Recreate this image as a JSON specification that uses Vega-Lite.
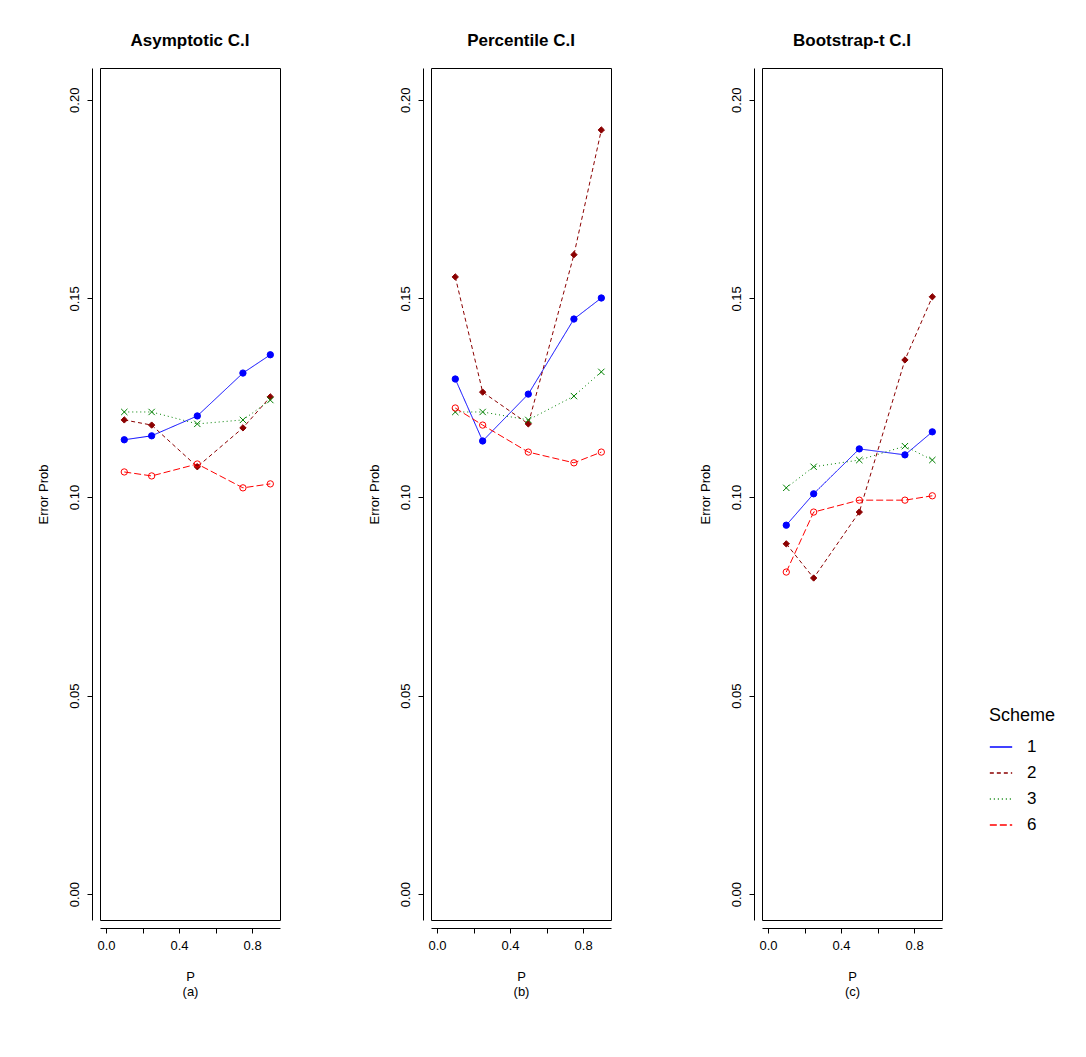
{
  "$schema": "https://vega.github.io/schema/vega-lite/v6.json",
  "background": "white",
  "padding": {"left": 36, "top": 31, "right": 5, "bottom": 5},
  "datasets": {
    "err": [
      {"panel": "a", "P": 0.1, "scheme": "1", "prob": 0.1144},
      {"panel": "a", "P": 0.25, "scheme": "1", "prob": 0.1154},
      {"panel": "a", "P": 0.5, "scheme": "1", "prob": 0.1204},
      {"panel": "a", "P": 0.75, "scheme": "1", "prob": 0.1312},
      {"panel": "a", "P": 0.9, "scheme": "1", "prob": 0.1358},
      {"panel": "a", "P": 0.1, "scheme": "2", "prob": 0.1194},
      {"panel": "a", "P": 0.25, "scheme": "2", "prob": 0.1181},
      {"panel": "a", "P": 0.5, "scheme": "2", "prob": 0.1076},
      {"panel": "a", "P": 0.75, "scheme": "2", "prob": 0.1174},
      {"panel": "a", "P": 0.9, "scheme": "2", "prob": 0.1252},
      {"panel": "a", "P": 0.1, "scheme": "3", "prob": 0.1214},
      {"panel": "a", "P": 0.25, "scheme": "3", "prob": 0.1214},
      {"panel": "a", "P": 0.5, "scheme": "3", "prob": 0.1184},
      {"panel": "a", "P": 0.75, "scheme": "3", "prob": 0.1194},
      {"panel": "a", "P": 0.9, "scheme": "3", "prob": 0.1244},
      {"panel": "a", "P": 0.1, "scheme": "6", "prob": 0.1063},
      {"panel": "a", "P": 0.25, "scheme": "6", "prob": 0.1053},
      {"panel": "a", "P": 0.5, "scheme": "6", "prob": 0.1083},
      {"panel": "a", "P": 0.75, "scheme": "6", "prob": 0.1023},
      {"panel": "a", "P": 0.9, "scheme": "6", "prob": 0.1033},
      {"panel": "b", "P": 0.1, "scheme": "1", "prob": 0.1297},
      {"panel": "b", "P": 0.25, "scheme": "1", "prob": 0.1141},
      {"panel": "b", "P": 0.5, "scheme": "1", "prob": 0.1259},
      {"panel": "b", "P": 0.75, "scheme": "1", "prob": 0.1448},
      {"panel": "b", "P": 0.9, "scheme": "1", "prob": 0.1501},
      {"panel": "b", "P": 0.1, "scheme": "2", "prob": 0.1554},
      {"panel": "b", "P": 0.25, "scheme": "2", "prob": 0.1264},
      {"panel": "b", "P": 0.5, "scheme": "2", "prob": 0.1184},
      {"panel": "b", "P": 0.75, "scheme": "2", "prob": 0.161},
      {"panel": "b", "P": 0.9, "scheme": "2", "prob": 0.1924},
      {"panel": "b", "P": 0.1, "scheme": "3", "prob": 0.1214},
      {"panel": "b", "P": 0.25, "scheme": "3", "prob": 0.1214},
      {"panel": "b", "P": 0.5, "scheme": "3", "prob": 0.1194},
      {"panel": "b", "P": 0.75, "scheme": "3", "prob": 0.1254},
      {"panel": "b", "P": 0.9, "scheme": "3", "prob": 0.1315},
      {"panel": "b", "P": 0.1, "scheme": "6", "prob": 0.1224},
      {"panel": "b", "P": 0.25, "scheme": "6", "prob": 0.1181},
      {"panel": "b", "P": 0.5, "scheme": "6", "prob": 0.1113},
      {"panel": "b", "P": 0.75, "scheme": "6", "prob": 0.1086},
      {"panel": "b", "P": 0.9, "scheme": "6", "prob": 0.1113},
      {"panel": "c", "P": 0.1, "scheme": "1", "prob": 0.0929},
      {"panel": "c", "P": 0.25, "scheme": "1", "prob": 0.1008},
      {"panel": "c", "P": 0.5, "scheme": "1", "prob": 0.1121},
      {"panel": "c", "P": 0.75, "scheme": "1", "prob": 0.1106},
      {"panel": "c", "P": 0.9, "scheme": "1", "prob": 0.1164},
      {"panel": "c", "P": 0.1, "scheme": "2", "prob": 0.0882},
      {"panel": "c", "P": 0.25, "scheme": "2", "prob": 0.0796},
      {"panel": "c", "P": 0.5, "scheme": "2", "prob": 0.0962},
      {"panel": "c", "P": 0.75, "scheme": "2", "prob": 0.1345},
      {"panel": "c", "P": 0.9, "scheme": "2", "prob": 0.1504},
      {"panel": "c", "P": 0.1, "scheme": "3", "prob": 0.1023},
      {"panel": "c", "P": 0.25, "scheme": "3", "prob": 0.1076},
      {"panel": "c", "P": 0.5, "scheme": "3", "prob": 0.1093},
      {"panel": "c", "P": 0.75, "scheme": "3", "prob": 0.1128},
      {"panel": "c", "P": 0.9, "scheme": "3", "prob": 0.1093},
      {"panel": "c", "P": 0.1, "scheme": "6", "prob": 0.0811},
      {"panel": "c", "P": 0.25, "scheme": "6", "prob": 0.0962},
      {"panel": "c", "P": 0.5, "scheme": "6", "prob": 0.0992},
      {"panel": "c", "P": 0.75, "scheme": "6", "prob": 0.0992},
      {"panel": "c", "P": 0.9, "scheme": "6", "prob": 0.1003}
    ]
  },
  "data": {"name": "err"},
  "spacing": 86,
  "hconcat": [
    {
      "title": "Asymptotic C.I",
      "width": 180, "height": 852,
      "transform": [{"filter": "datum.panel == 'a'"}],
      "encoding": {
        "x": {"field": "P", "type": "quantitative", "scale": {"domain": [-0.033, 0.953], "nice": false, "zero": false}, "axis": {"title": ["P", "(a)"], "values": [0, 0.2, 0.4, 0.6, 0.8]}},
        "y": {"field": "prob", "type": "quantitative", "scale": {"domain": [-0.0065, 0.208], "nice": false}, "axis": {"title": "Error Prob", "values": [0, 0.05, 0.1, 0.15, 0.2]}}
      },
      "layer": [
        {"mark": {"type": "line", "strokeWidth": 1},
         "encoding": {
           "color": {"field": "scheme", "type": "nominal", "title": "Scheme",
             "legend": {"encode": {"symbols": {"update": {"strokeDash": {"signal": "datum.value == '2' ? [4, 3] : datum.value == '3' ? [1, 3] : datum.value == '6' ? [7, 3] : [1, 0]"}}}}}},
           "strokeDash": {"field": "scheme", "type": "nominal", "legend": null, "scale": {"domain": ["1", "2", "3", "6"], "range": [[1, 0], [4, 3], [1, 3], [7, 3]]}}}},
        {"mark": {"type": "point", "size": 40, "strokeWidth": 1, "opacity": 1},
         "encoding": {
           "color": {"field": "scheme", "type": "nominal", "title": "Scheme"},
           "shape": {"field": "scheme", "type": "nominal", "legend": null, "scale": {"domain": ["1", "2", "3", "6"], "range": ["circle", "diamond", "M-1,-1L1,1M1,-1L-1,1", "circle"]}},
           "fill": {"field": "scheme", "type": "nominal", "legend": null, "scale": {"domain": ["1", "2", "3", "6"], "range": ["#0000ff", "#8b0000", "transparent", "transparent"]}}}}
      ]
    },
    {
      "title": "Percentile C.I",
      "width": 180, "height": 852,
      "transform": [{"filter": "datum.panel == 'b'"}],
      "encoding": {
        "x": {"field": "P", "type": "quantitative", "scale": {"domain": [-0.033, 0.953], "nice": false, "zero": false}, "axis": {"title": ["P", "(b)"], "values": [0, 0.2, 0.4, 0.6, 0.8]}},
        "y": {"field": "prob", "type": "quantitative", "scale": {"domain": [-0.0065, 0.208], "nice": false}, "axis": {"title": "Error Prob", "values": [0, 0.05, 0.1, 0.15, 0.2]}}
      },
      "layer": [
        {"mark": {"type": "line", "strokeWidth": 1},
         "encoding": {
           "color": {"field": "scheme", "type": "nominal", "title": "Scheme"},
           "strokeDash": {"field": "scheme", "type": "nominal", "legend": null}}},
        {"mark": {"type": "point", "size": 40, "strokeWidth": 1, "opacity": 1},
         "encoding": {
           "color": {"field": "scheme", "type": "nominal", "title": "Scheme"},
           "shape": {"field": "scheme", "type": "nominal", "legend": null},
           "fill": {"field": "scheme", "type": "nominal", "legend": null}}}
      ]
    },
    {
      "title": "Bootstrap-t C.I",
      "width": 180, "height": 852,
      "transform": [{"filter": "datum.panel == 'c'"}],
      "encoding": {
        "x": {"field": "P", "type": "quantitative", "scale": {"domain": [-0.033, 0.953], "nice": false, "zero": false}, "axis": {"title": ["P", "(c)"], "values": [0, 0.2, 0.4, 0.6, 0.8]}},
        "y": {"field": "prob", "type": "quantitative", "scale": {"domain": [-0.0065, 0.208], "nice": false}, "axis": {"title": "Error Prob", "values": [0, 0.05, 0.1, 0.15, 0.2]}}
      },
      "layer": [
        {"mark": {"type": "line", "strokeWidth": 1},
         "encoding": {
           "color": {"field": "scheme", "type": "nominal", "title": "Scheme"},
           "strokeDash": {"field": "scheme", "type": "nominal", "legend": null}}},
        {"mark": {"type": "point", "size": 40, "strokeWidth": 1, "opacity": 1},
         "encoding": {
           "color": {"field": "scheme", "type": "nominal", "title": "Scheme"},
           "shape": {"field": "scheme", "type": "nominal", "legend": null},
           "fill": {"field": "scheme", "type": "nominal", "legend": null}}}
      ]
    }
  ],
  "resolve": {
    "scale": {"color": "shared", "strokeDash": "shared", "shape": "shared", "fill": "shared"},
    "legend": {"color": "shared"}
  },
  "config": {
    "font": "Liberation Sans",
    "view": {"stroke": "black", "strokeWidth": 1},
    "title": {"fontSize": 17, "fontWeight": "bold", "font": "Liberation Sans", "offset": 18},
    "range": {
      "category": ["#0000ff", "#8b0000", "#008000", "#ff0000"]
    },
    "axis": {
      "grid": false,
      "domainColor": "black",
      "tickColor": "black",
      "labelColor": "black",
      "titleColor": "black",
      "labelFontSize": 13,
      "titleFontWeight": "normal",
      "titleFontSize": 13,
      "offset": 8
    },
    "axisX": {
      "labelExpr": "datum.value == 0.2 || datum.value == 0.6 ? '' : format(datum.value, '.1f')",
      "labelPadding": 6,
      "titlePadding": 18
    },
    "axisY": {
      "format": ".2f",
      "labelAngle": -90,
      "labelAlign": "center",
      "labelBaseline": "bottom",
      "labelPadding": 6,
      "titlePadding": 18
    },
    "legend": {
      "orient": "none",
      "legendX": 889,
      "legendY": 639,
      "titleFontSize": 18,
      "titleFontWeight": "normal",
      "titlePadding": 10,
      "labelFontSize": 17,
      "labelOffset": 14,
      "symbolType": "stroke",
      "symbolSize": 500,
      "symbolStrokeWidth": 1.3,
      "rowPadding": 6,
      "padding": 0
    }
  }
}
